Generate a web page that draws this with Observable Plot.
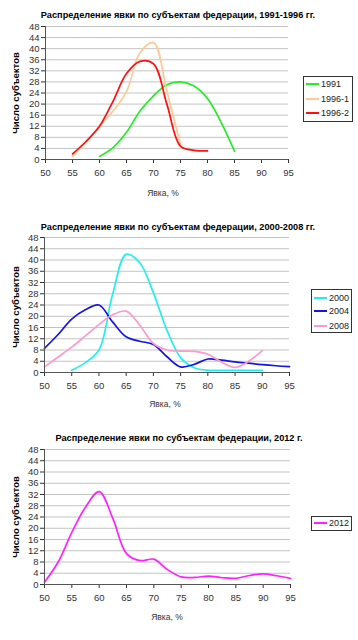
<!DOCTYPE html>
<html>
<head>
<meta charset="utf-8">
<script src="https://cdn.jsdelivr.net/npm/d3@7"></script>
<script src="https://cdn.jsdelivr.net/npm/@observablehq/plot@0.6"></script>
<style>
  html, body { margin: 0; padding: 0; background: #fff; }
  #root { position: relative; width: 358px; height: 640px; overflow: hidden; font-family: "Liberation Sans", Arial, sans-serif; color: #222; }
  .abs { position: absolute; white-space: nowrap; transform: translate(-50%, -50%); }
  .title { font-weight: bold; font-size: 9.2px; color: #000; }
  .ylab { font-weight: bold; font-size: 9.5px; color: #000; transform: translate(-50%, -50%) rotate(-90deg); }
  .xlab { font-size: 8.5px; color: #333; }
  .legend { position: absolute; border: 1px solid #333; background: #fff; box-sizing: border-box; }
  .legend .row { position: absolute; left: 0; right: 0; height: 12px; transform: translateY(-50%); font-size: 9px; color: #222; }
  .legend .sw { position: absolute; left: 2px; top: 5px; width: 13px; height: 0; border-top: 2px solid; }
  .legend .tx { position: absolute; left: 17px; top: 0; line-height: 12px; }
  svg { position: absolute; left: 0; }
</style>
</head>
<body>
<div id="root"></div>
<script>
// x positions (turnout, %) shared by all series
const turnout = [50, 52.5, 55, 57.5, 60, 62.5, 65, 67.5, 70, 72.5, 75, 77.5, 80, 82.5, 85, 87.5, 90, 92.5, 95];
const xTicks = [50, 55, 60, 65, 70, 75, 80, 85, 90, 95];
const yTicks = [0, 4, 8, 12, 16, 20, 24, 28, 32, 36, 40, 44, 48];

// Number of regions per turnout bin (null = no point)
const s1991   = [null, null, null, null, 1.1, 4.3, 9.8, 17.5, 23, 27, 28, 26.5, 22, 13.5, 3, null, null, null, null];
const s1996_1 = [null, null, 1.2, 6.3, 12, 17.5, 24.5, 38.5, 42.2, 24.5, 5.5, null, null, null, null, null, null, null, null];
const s1996_2 = [null, null, 2, 6.5, 12, 21, 31, 35.4, 34.5, 19.8, 4.8, 3.3, 3.1, null, null, null, null, null, null];
const s2000   = [null, null, 0.8, 3.5, 8, 27.7, 42, 39, 28.3, 15, 5.3, 1.7, 0.8, 0.8, 0.8, 0.8, 0.8, null, null];
const s2004   = [8.6, 13.5, 19, 22.3, 24, 18, 12.7, 11.1, 10, 5.6, 2, 2.9, 4.8, 4.4, 3.8, 3.3, 2.8, 2.4, 2.1];
const s2008   = [2, 5.5, 9, 13, 17, 20.5, 21.8, 16.8, 10.3, 8, 7.6, 7.5, 6.5, 3.7, 1.8, 4, 7.8, null, null];
const s2012   = [0.8, 8, 18.5, 27.5, 33, 23.5, 11, 8.5, 9, 5.3, 2.7, 2.5, 3, 2.4, 2.2, 3.2, 3.8, 3.1, 2.2];

// Series names, colours
const names1 = ["1991", "1996-1", "1996-2"];
const names2 = ["2000", "2004", "2008"];
const names3 = ["2012"];
const colors1 = ["#22ee22", "#ffc896", "#ff1010"];
const colors2 = ["#22eeee", "#1414e6", "#ff99cc"];
const colors3 = ["#ff22ff"];

const titles = [
  "Распределение явки по субъектам федерации, 1991-1996 гг.",
  "Распределение явки по субъектам федерации, 2000-2008 гг.",
  "Распределение явки по субъектам федерации, 2012 г."
];
const yLabel = "Число субъектов";
const xLabel = "Явка, %";

const root = document.getElementById("root");

function addText(cls, text, x, y) {
  const d = document.createElement("div");
  d.className = "abs " + cls;
  d.textContent = text;
  d.style.left = x + "px";
  d.style.top = y + "px";
  root.appendChild(d);
}

function addLegend(names, colors, box, rowsY) {
  const lg = document.createElement("div");
  lg.className = "legend";
  lg.style.left = box.x + "px";
  lg.style.top = box.y + "px";
  lg.style.width = box.w + "px";
  lg.style.height = box.h + "px";
  names.forEach((n, i) => {
    const r = document.createElement("div");
    r.className = "row";
    r.style.top = (rowsY[i] - box.y - 1) + "px";
    const sw = document.createElement("div");
    sw.className = "sw";
    sw.style.borderTopColor = colors[i];
    const tx = document.createElement("div");
    tx.className = "tx";
    tx.textContent = n;
    r.appendChild(sw); r.appendChild(tx);
    lg.appendChild(r);
  });
  root.appendChild(lg);
}

function panel(cfg) {
  const rows = [];
  cfg.series.forEach((vals, k) => {
    turnout.forEach((x, i) => {
      if (vals[i] != null) rows.push({x, y: vals[i], name: cfg.names[k]});
    });
  });
  const svg = Plot.plot({
    width: 358,
    height: cfg.height,
    marginTop: cfg.mt,
    marginBottom: cfg.mb,
    marginLeft: cfg.ml,
    marginRight: cfg.mr,
    style: {fontFamily: "'Liberation Sans', Arial, sans-serif", fontSize: "9.5px", color: "#333", background: "transparent"},
    x: {domain: [50, 95], ticks: xTicks, tickSize: 4, tickPadding: 6, label: null, tickFormat: d => String(d)},
    y: {domain: [0, 48], ticks: yTicks, tickSize: 4, tickPadding: 2, label: null},
    color: {domain: cfg.names, range: cfg.colors},
    marks: [
      Plot.ruleY(yTicks.filter(t => t > 0), {stroke: "#c4c4c4", strokeWidth: 1}),
      Plot.line(rows, {x: "x", y: "y", z: "name", stroke: "name", curve: "catmull-rom", strokeWidth: 1.7}),
      Plot.ruleX([50], {stroke: "#555"}),
      Plot.ruleY([0], {stroke: "#555"})
    ]
  });
  svg.style.top = cfg.top + "px";
  root.appendChild(svg);
}

panel({top: 0, height: 200, mt: 26, mb: 41, ml: 45, mr: 70, series: [s1991, s1996_1, s1996_2], names: names1, colors: colors1});
panel({top: 200, height: 210, mt: 37, mb: 38, ml: 44, mr: 69, series: [s2000, s2004, s2008], names: names2, colors: colors2});
panel({top: 410, height: 230, mt: 39, mb: 56, ml: 44, mr: 68, series: [s2012], names: names3, colors: colors3});

addText("title", titles[0], 178, 15);
addText("title", titles[1], 178, 227);
addText("title", titles[2], 179, 438);

addText("ylab", yLabel, 15, 93);
addText("ylab", yLabel, 15, 307);
addText("ylab", yLabel, 15, 517);

addText("xlab", xLabel, 163, 193);
addText("xlab", xLabel, 165, 404);
addText("xlab", xLabel, 167, 617);

addLegend(names1, colors1, {x: 303, y: 76, w: 50, h: 46}, [84, 99, 113]);
addLegend(names2, colors2, {x: 311, y: 289, w: 41, h: 44}, [298, 311, 326]);
addLegend(names3, colors3, {x: 311, y: 516, w: 41, h: 15}, [523]);
</script>
</body>
</html>
